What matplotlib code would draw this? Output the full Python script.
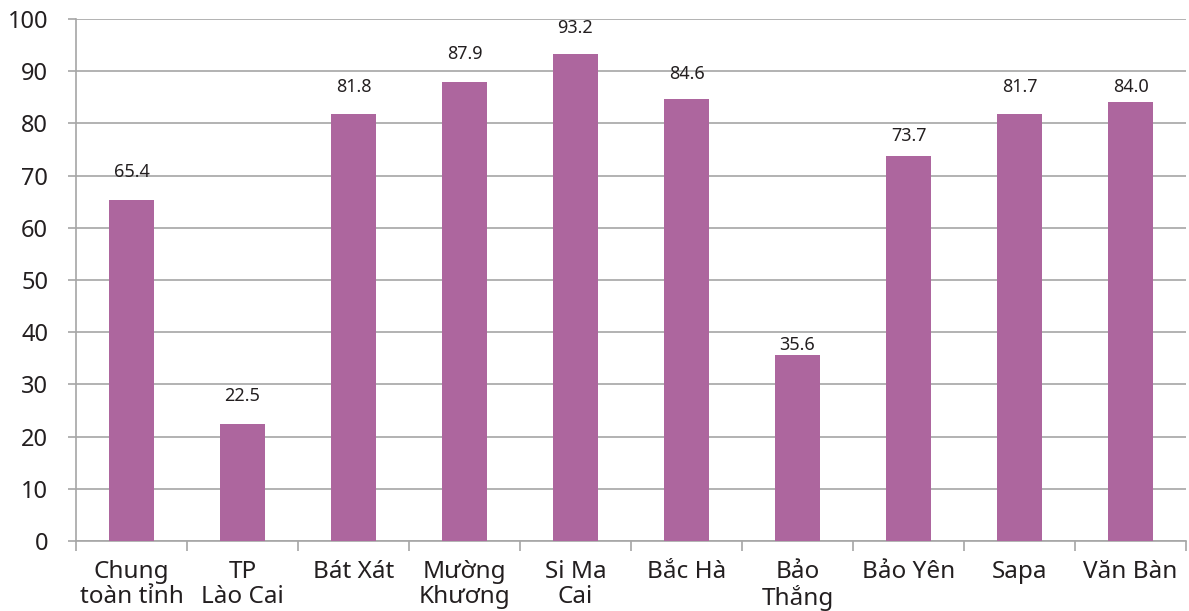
#!/usr/bin/env python
# -*- coding: utf-8 -*-

import numpy as np
import matplotlib
matplotlib.use('Agg')
from matplotlib import pyplot as plt

plt.rcParams['font.family'] = ['Noto Sans', 'DejaVu Sans']

categories = ['Chung\ntoàn tỉnh', 'TP\nLào Cai', 'Bát Xát', 'Mường\nKhương',
              'Si Ma\nCai', 'Bắc Hà', 'Bảo\nThắng', 'Bảo Yên', 'Sapa', 'Văn Bàn']
values = [65.4, 22.5, 81.8, 87.9, 93.2, 84.6, 35.6, 73.7, 81.7, 84.0]
# khoảng cách từ đỉnh cột tới tâm nhãn số liệu (đơn vị trục y)
label_gap = [5.3, 5.3, 5.2, 5.4, 5.1, 4.9, 1.9, 3.9, 5.3, 3.0]

BAR = '#ad669e'
GRID = '#a6a6a6'


def main():
    fig = plt.figure(figsize=(11.89, 6.11), dpi=100)
    ax = fig.add_axes([0.0639, 0.1146, 0.9336, 0.8544])

    x = np.arange(len(categories))
    ax.bar(x, values, width=0.4, color=BAR, zorder=3)
    for i, v in enumerate(values):
        ax.text(i, v + label_gap[i], '%.1f' % v, ha='center', va='center',
                fontsize=13, color='#231f20', zorder=4)

    ax.set_xlim(-0.5, len(categories) - 0.5)
    ax.set_ylim(0, 100)
    ax.set_yticks(np.arange(0, 101, 10))
    ax.yaxis.grid(True, color=GRID, linewidth=1.2, zorder=0)
    ax.tick_params(axis='y', length=6, width=1.2, color=GRID, pad=14,
                   labelsize=17, labelcolor='#231f20')

    # nhãn ở giữa cột, vạch chia ở ranh giới giữa các cột
    ax.set_xticks(x)
    ax.set_xticklabels(categories, linespacing=1.05)
    ax.set_xticks(np.arange(-0.5, len(categories), 1.0), minor=True)
    ax.tick_params(axis='x', which='major', length=0, pad=14,
                   labelsize=17.5, labelcolor='#231f20')
    ax.tick_params(axis='x', which='minor', length=7, width=1.2, color=GRID)

    for s in ['top', 'right']:
        ax.spines[s].set_visible(False)
    for s in ['left', 'bottom']:
        ax.spines[s].set_color(GRID)
        ax.spines[s].set_linewidth(1.2)

    fig.savefig('out.png', dpi=100)


if __name__ == '__main__':
    main()
